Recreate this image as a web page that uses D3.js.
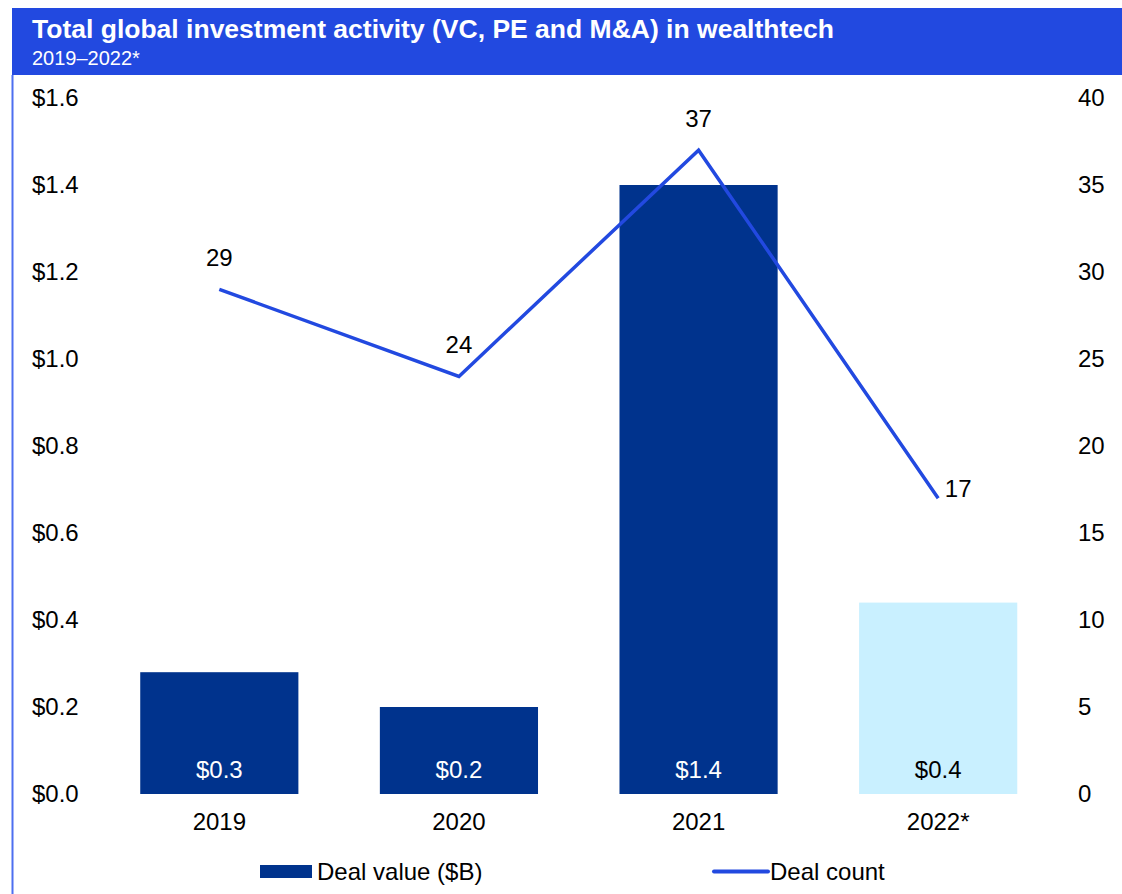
<!DOCTYPE html>
<html>
<head>
<meta charset="utf-8">
<script src="https://cdn.jsdelivr.net/npm/d3@7"></script>
<style>
  body { margin: 0; background: #fff; }
  svg text { font-family: "Liberation Sans", Arial, sans-serif; }
</style>
</head>
<body>
<script>
// chart data
var years = ["2019", "2020", "2021", "2022*"];
var dealValue = [0.28, 0.2, 1.4, 0.44];
var valueLabels = ["$0.3", "$0.2", "$1.4", "$0.4"];
var dealCount = [29, 24, 37, 17];
var leftTicks = [0, 0.2, 0.4, 0.6, 0.8, 1.0, 1.2, 1.4, 1.6];
var rightTicks = [0, 5, 10, 15, 20, 25, 30, 35, 40];

var width = 1122, height = 894;
var blue = "#2249e0", navy = "#00338d", pale = "#c9f0ff";
var fs = 24;

var svg = d3.select("body").append("svg")
  .attr("width", width)
  .attr("height", height);

// header band
svg.append("rect")
  .attr("x", 12).attr("y", 8)
  .attr("width", width - 12).attr("height", 67)
  .attr("fill", blue);
svg.append("text")
  .attr("x", 32).attr("y", 38)
  .attr("fill", "#fff")
  .attr("font-size", 26.5)
  .attr("font-weight", "bold")
  .text("Total global investment activity (VC, PE and M&A) in wealthtech");
svg.append("text")
  .attr("x", 32).attr("y", 65)
  .attr("fill", "#fff")
  .attr("font-size", 20)
  .text("2019\u20132022*");

// left border
svg.append("line")
  .attr("x1", 12.5).attr("x2", 12.5)
  .attr("y1", 75).attr("y2", height)
  .attr("stroke", "#4d6ff0")
  .attr("stroke-width", 2);

// scales
var xScale = d3.scaleBand()
  .domain(years)
  .range([99.5, 1058])
  .paddingInner(0.34)
  .paddingOuter(0.17);

var yScale = d3.scaleLinear().domain([0, 1.6]).range([794, 98]);
var countScale = d3.scaleLinear().domain([0, 40]).range([794, 98]);

// left axis
var yAxis = d3.axisLeft(yScale)
  .tickValues(leftTicks)
  .tickSize(0)
  .tickFormat(function(d) { return "$" + d3.format(".1f")(d); });
var gy = svg.append("g")
  .attr("transform", "translate(32,0)")
  .call(yAxis);
gy.select(".domain").remove();
gy.selectAll("text")
  .attr("x", 0)
  .attr("text-anchor", "start")
  .attr("font-size", fs)
  .attr("fill", "#000");

// right axis
var rAxis = d3.axisRight(countScale)
  .tickValues(rightTicks)
  .tickSize(0);
var gr = svg.append("g")
  .attr("transform", "translate(1078,0)")
  .call(rAxis);
gr.select(".domain").remove();
gr.selectAll("text")
  .attr("x", 0)
  .attr("font-size", fs)
  .attr("fill", "#000");

// x axis labels
var xAxis = d3.axisBottom(xScale).tickSize(0);
var gx = svg.append("g")
  .attr("transform", "translate(0,794)")
  .call(xAxis);
gx.select(".domain").remove();
gx.selectAll("text")
  .attr("y", 19)
  .attr("font-size", fs)
  .attr("fill", "#000");

// bars
svg.selectAll("rect.bar")
  .data(years)
  .enter()
  .append("rect")
  .attr("class", "bar")
  .attr("x", function(d) { return xScale(d); })
  .attr("width", xScale.bandwidth())
  .attr("y", function(d, i) { return yScale(dealValue[i]); })
  .attr("height", function(d, i) { return yScale(0) - yScale(dealValue[i]); })
  .attr("fill", function(d, i) { return i == 3 ? pale : navy; });

svg.selectAll("text.barlabel")
  .data(years)
  .enter()
  .append("text")
  .attr("class", "barlabel")
  .attr("x", function(d) { return xScale(d) + xScale.bandwidth() / 2; })
  .attr("y", 778)
  .attr("text-anchor", "middle")
  .attr("font-size", fs)
  .attr("fill", function(d, i) { return i == 3 ? "#000" : "#fff"; })
  .text(function(d, i) { return valueLabels[i]; });

// deal count line
var line = d3.line()
  .x(function(d, i) { return xScale(years[i]) + xScale.bandwidth() / 2; })
  .y(function(d) { return countScale(d); });

svg.append("path")
  .datum(dealCount)
  .attr("d", line)
  .attr("fill", "none")
  .attr("stroke", blue)
  .attr("stroke-width", 3.5);

svg.selectAll("text.countlabel")
  .data(dealCount)
  .enter()
  .append("text")
  .attr("class", "countlabel")
  .attr("x", function(d, i) {
    var cx = xScale(years[i]) + xScale.bandwidth() / 2;
    return i == 3 ? cx + 20 : cx;
  })
  .attr("y", function(d, i) { return countScale(d) + (i == 3 ? -1 : -23); })
  .attr("text-anchor", "middle")
  .attr("font-size", fs)
  .attr("fill", "#000")
  .text(function(d) { return d; });

// legend
var legend = svg.append("g");
legend.append("rect")
  .attr("x", 260).attr("y", 865)
  .attr("width", 52).attr("height", 13)
  .attr("fill", navy);
legend.append("text")
  .attr("x", 317).attr("y", 880)
  .attr("font-size", fs)
  .text("Deal value ($B)");
legend.append("line")
  .attr("x1", 714).attr("x2", 768)
  .attr("y1", 871.5).attr("y2", 871.5)
  .attr("stroke", blue)
  .attr("stroke-width", 4)
  .attr("stroke-linecap", "round");
legend.append("text")
  .attr("x", 770).attr("y", 880)
  .attr("font-size", fs)
  .text("Deal count");
</script>
</body>
</html>
